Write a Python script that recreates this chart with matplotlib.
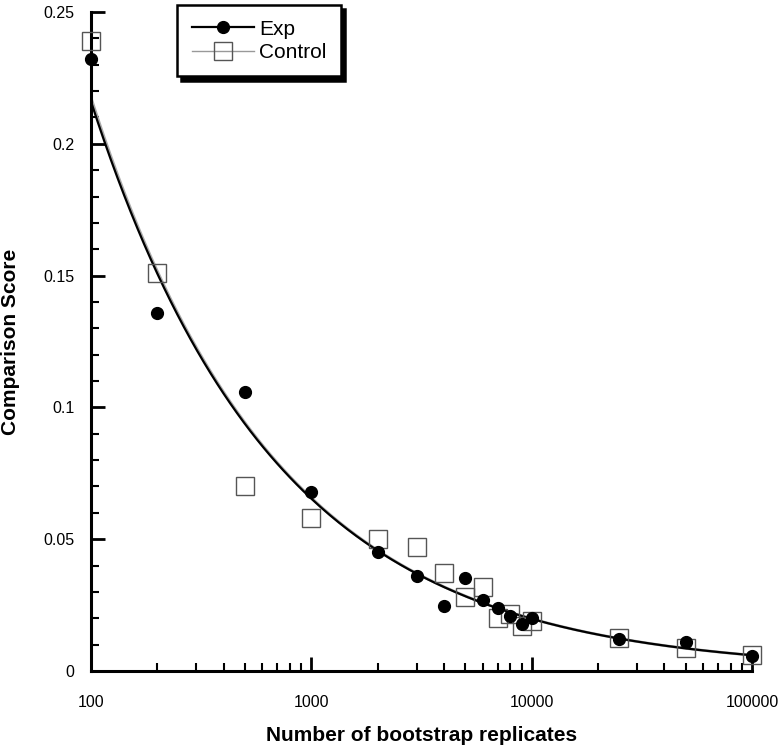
import numpy as np
import matplotlib.pyplot as plt
from matplotlib.ticker import FixedLocator, NullFormatter, MultipleLocator

plt.rcParams['font.family'] = ['Liberation Sans', 'DejaVu Sans']

# data
exp_x = [100, 200, 500, 1000, 2000, 3000, 4000, 5000, 6000, 7000, 8000, 9000, 10000, 25000, 50000, 100000]
exp_y = [0.232, 0.136, 0.106, 0.068, 0.045, 0.036, 0.0247, 0.0353, 0.027, 0.024, 0.021, 0.018, 0.020, 0.012, 0.011, 0.0057]
ctl_x = [100, 200, 500, 1000, 2000, 3000, 4000, 5000, 6000, 7000, 8000, 9000, 10000, 25000, 50000, 100000]
ctl_y = [0.239, 0.151, 0.070, 0.058, 0.050, 0.047, 0.037, 0.028, 0.032, 0.020, 0.0216, 0.017, 0.019, 0.0125, 0.0087, 0.006]

# power-law trend lines (a * x^b)
exp_fit = (0.216 * 100 ** 0.519, -0.519)
ctl_fit = (0.2175 * 100 ** 0.520, -0.520)

fig = plt.figure(figsize=(7.8, 7.52), dpi=100)
ax = fig.add_axes([0.1167, 0.1077, 0.8475, 0.8763])

xs = np.logspace(2, 5, 300)
ax.plot(xs, ctl_fit[0] * xs ** ctl_fit[1], color='#aaaaaa', lw=2.0, zorder=2)
ax.plot(xs, exp_fit[0] * xs ** exp_fit[1], color='black', lw=1.6, zorder=3)
ax.plot(ctl_x, ctl_y, 's', ms=13, mfc='none', mec='#555555', mew=1.0, zorder=4, clip_on=False)
ax.plot(exp_x, exp_y, 'o', ms=8.5, color='black', zorder=5, clip_on=False)

ax.set_xscale('log')
ax.set_xlim(100, 100000)
ax.set_ylim(0, 0.25)
ax.set_xticks([100, 1000, 10000, 100000])
ax.set_xticklabels(['100', '1000', '10000', '100000'])
ax.xaxis.set_minor_locator(FixedLocator([m * 10 ** e for e in range(2, 5) for m in range(2, 10)]))
ax.xaxis.set_minor_formatter(NullFormatter())
ax.set_yticks([0, 0.05, 0.1, 0.15, 0.2, 0.25])
ax.set_yticklabels(['0', '0.05', '0.1', '0.15', '0.2', '0.25'])
ax.yaxis.set_minor_locator(MultipleLocator(0.01))

ax.tick_params(which='major', direction='in', length=10, width=2, labelsize=11.5)
ax.tick_params(which='minor', direction='in', length=6, width=1.5)
ax.tick_params(axis='x', which='major', pad=17)
ax.tick_params(axis='y', which='major', pad=12)
for s in ['top', 'right']:
    ax.spines[s].set_visible(False)
for s in ['left', 'bottom']:
    ax.spines[s].set_linewidth(2.2)

ax.set_xlabel('Number of bootstrap replicates', fontsize=15, fontweight='bold')
ax.set_ylabel('Comparison Score', fontsize=15, fontweight='bold')
ax.xaxis.set_label_coords(0.5, -0.083)
ax.yaxis.set_label_coords(-0.108, 0.5)

# legend
h1, = ax.plot([], [], '-o', color='black', ms=8.5, lw=1.6)
h2, = ax.plot([], [], '-s', color='#999999', lw=1, ms=13, mfc='none', mec='#555555')
leg = ax.legend([h1, h2], ['Exp', 'Control'], loc='upper left', bbox_to_anchor=(0.13, 1.0106),
                fontsize=15, frameon=True, fancybox=False, framealpha=1,
                shadow={'ox': 3, 'oy': -3, 'facecolor': 'black', 'edgecolor': 'black', 'alpha': 1},
                handlelength=3.0, handletextpad=0.25, borderpad=0.7, labelspacing=0.2,
                borderaxespad=0)
leg.get_frame().set_edgecolor('black')
leg.get_frame().set_linewidth(1.8)

fig.savefig('out.png', dpi=100)
